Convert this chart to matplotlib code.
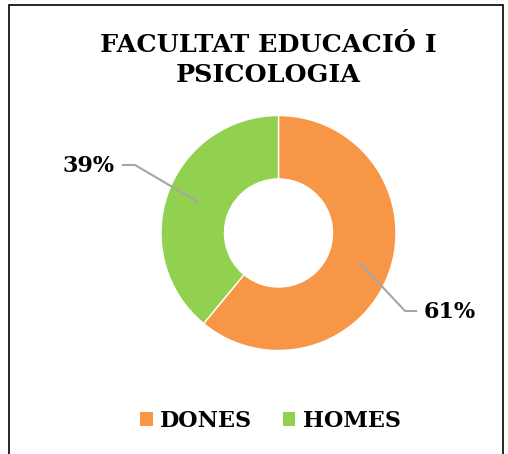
import matplotlib
matplotlib.use("Agg")
import matplotlib.pyplot as plt
from matplotlib.patches import Patch, Rectangle

title_lines = ["FACULTAT EDUCACIÓ I", "PSICOLOGIA"]
categories = ["DONES", "HOMES"]
values = [61, 39]
colors = ["#F79646", "#92D050"]

W, H = 508, 454
fig = plt.figure(figsize=(W / 100, H / 100), dpi=100)
ax = fig.add_axes([0, 0, 1, 1])
R = 117.5
cx, cy = 278.5, 233

font = "DejaVu Serif"

ax.pie(values, colors=colors, startangle=90, counterclock=False,
       radius=1, wedgeprops=dict(width=0.54, edgecolor="white", linewidth=1),
       center=(0, 0), frame=True)
ax.set_xlim(-cx / R, (W - cx) / R)
ax.set_ylim(-(H - cy) / R, cy / R)
ax.set_aspect("auto")
ax.axis("off")

def px(x, y):
    return ((x - cx) / R, (cy - y) / R)

# leader lines and labels
lc = "#A6A6A6"
p1, p2, p3 = px(360, 263), px(405, 311), px(416, 311)
ax.plot([p1[0], p2[0], p3[0]], [p1[1], p2[1], p3[1]], color=lc, lw=1.5)
t = px(424, 312)
ax.text(t[0], t[1], f"{values[0]}%", ha="left", va="center", fontsize=16,
        fontweight="bold", family=font)
q1, q2, q3 = px(198, 202), px(135, 165), px(123, 165)
ax.plot([q1[0], q2[0], q3[0]], [q1[1], q2[1], q3[1]], color=lc, lw=1.5)
t = px(114, 166)
ax.text(t[0], t[1], f"{values[1]}%", ha="right", va="center", fontsize=16,
        fontweight="bold", family=font)

for i, line in enumerate(title_lines):
    fig.text(268 / W, 1 - (52 + 30 * i) / H, line, ha="center", va="baseline",
             fontsize=18.3, fontweight="bold", family=font)

handles = [Patch(facecolor=c, edgecolor="none") for c in colors]
fig.legend(handles, categories, loc="center", bbox_to_anchor=(270.5 / W, 1 - 421 / H),
           ncol=2, frameon=False, handlelength=0.55, handleheight=0.55, handletextpad=0.35,
           columnspacing=1.35, prop=dict(family=font, weight="bold", size=16))

# border
fig.add_artist(Rectangle((9 / W, -0.1), (503 - 9) / W, 1.1 - 5 / H, transform=fig.transFigure,
                         fill=False, edgecolor="#000000", lw=1.2))

fig.savefig("out.png", dpi=100)
